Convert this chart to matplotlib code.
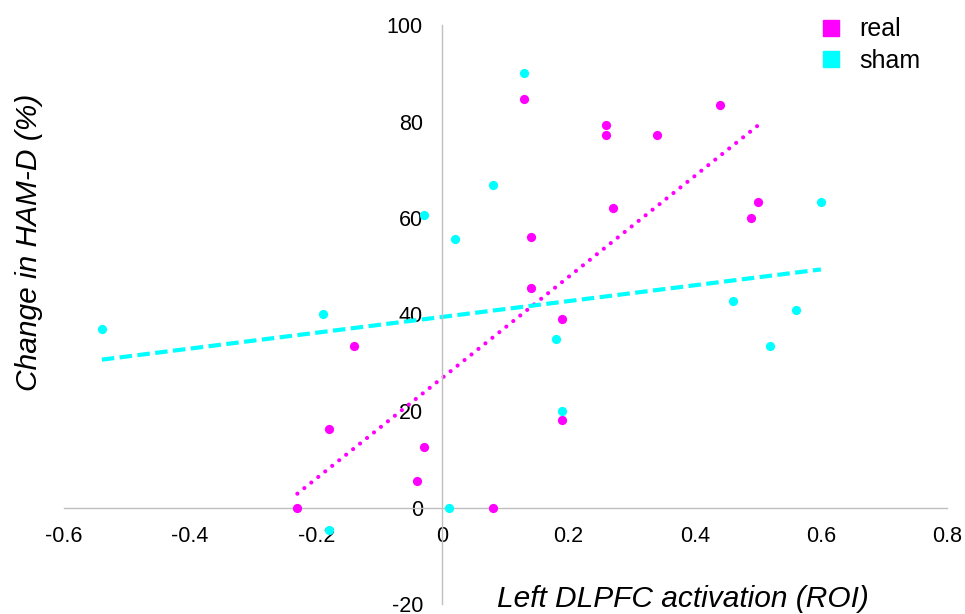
import matplotlib
matplotlib.use("Agg")
from matplotlib import pyplot as plt
from matplotlib.lines import Line2D
import numpy as np

plt.rcParams['font.family'] = ['Liberation Sans', 'DejaVu Sans']
plt.rcParams['axes.unicode_minus'] = False

# values
real_x = [0.13, 0.26, 0.26, 0.34, 0.44, 0.27, 0.50, 0.49, 0.14, 0.14,
          0.19, -0.14, -0.18, -0.03, -0.04, -0.23, 0.19, 0.08]
real_y = [84.7, 79.3, 77.3, 77.3, 83.4, 62.0, 63.3, 60.1, 56.1, 45.5,
          39.0, 33.4, 16.2, 12.5, 5.5, 0.0, 18.2, 0.0]

sham_x = [0.13, 0.08, 0.60, 0.46, 0.56, -0.03, 0.02, -0.19, -0.54,
          0.01, -0.18, 0.18, 0.52, 0.19]
sham_y = [90.1, 66.8, 63.3, 42.9, 40.9, 60.7, 55.7, 40.1, 36.9,
          0.0, -4.7, 35.0, 33.4, 20.1]

# trend lines (slope, intercept) as drawn in the reference
real_trend = (104.5, 26.9)
sham_trend = (16.4, 39.5)

x_ticks = [-0.6, -0.4, -0.2, 0, 0.2, 0.4, 0.6, 0.8]
x_tick_labels = ['-0.6', '-0.4', '-0.2', '0', '0.2', '0.4', '0.6', '0.8']
y_ticks = [-20, 0, 20, 40, 60, 80, 100]
y_tick_labels = ['-20', '0', '20', '40', '60', '80', '100']

real_color = '#ff00ff'
sham_color = '#00ffff'

fig = plt.figure(figsize=(9.65, 6.14), dpi=100)
ax = fig.add_axes([64 / 965, 1 - 604 / 614, (947 - 64) / 965, (604 - 25) / 614])

ax.scatter(real_x, real_y, s=44, color=real_color, zorder=3, linewidths=0)
ax.scatter(sham_x, sham_y, s=44, color=sham_color, zorder=3, linewidths=0)

# trend lines span each series' x range
tx = np.array([min(real_x), max(real_x)])
ax.plot(tx, real_trend[0] * tx + real_trend[1], color=real_color,
        linestyle=(0, (0.01, 2.13)), linewidth=3.0, dash_capstyle='round', zorder=2)
tx = np.array([min(sham_x), max(sham_x)])
ax.plot(tx, sham_trend[0] * tx + sham_trend[1], color=sham_color,
        linestyle=(0, (3.0, 1.3)), linewidth=3.0, zorder=2)

ax.set_xlim(-0.6, 0.8)
ax.set_ylim(-20, 100)
ax.spines['left'].set_position(('data', 0))
ax.spines['bottom'].set_position(('data', 0))
ax.spines['right'].set_visible(False)
ax.spines['top'].set_visible(False)
for s in ['left', 'bottom']:
    ax.spines[s].set_color('#bfbfbf')
    ax.spines[s].set_linewidth(1.0)

ax.set_xticks(x_ticks)
ax.set_xticklabels(x_tick_labels)
ax.set_yticks(y_ticks)
ax.set_yticklabels(y_tick_labels)
ax.tick_params(length=0, labelsize=15.5, colors='black')
ax.tick_params(axis='x', pad=13)
ax.tick_params(axis='y', pad=14)
ax.patch.set_alpha(0)

fig.text(29 / 965, 1 - 242 / 614, 'Change in HAM-D (%)', rotation=90,
         ha='center', va='center', fontsize=21.5, style='italic')
fig.text(497 / 965, 1 - 607 / 614, 'Left DLPFC activation (ROI)',
         ha='left', va='baseline', fontsize=21.5, style='italic')

handles = [Line2D([], [], marker='s', linestyle='none', color=real_color, markersize=11.5),
           Line2D([], [], marker='s', linestyle='none', color=sham_color, markersize=11.5)]
fig.legend(handles, ['real', 'sham'], loc='upper left',
           bbox_to_anchor=(803 / 965, 1.0), frameon=False, borderpad=0.2,
           fontsize=18, handlelength=0.8, handletextpad=0.75, labelspacing=0.3)

plt.savefig('out.png', dpi=100)
